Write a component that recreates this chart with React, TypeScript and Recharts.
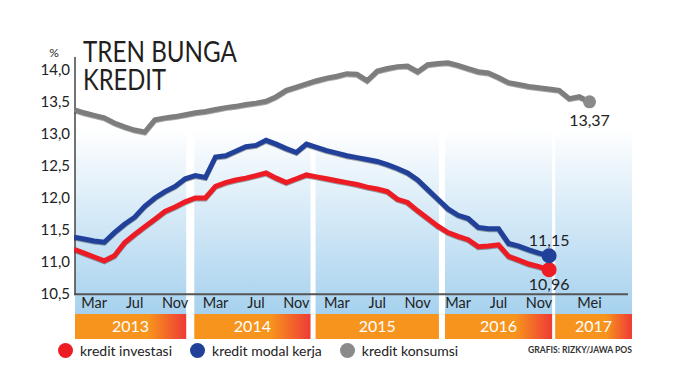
import { LineChart, Line, XAxis, YAxis, ReferenceArea, ReferenceLine, ReferenceDot, Legend } from 'recharts';

const FONT = 'Lato, "Open Sans", sans-serif';

// month index 0 = Jan 2013
const kreditInvestasi = [
  11.2, 11.14, 11.08, 11.02, 11.1, 11.3, 11.43, 11.55, 11.67, 11.79, 11.86, 11.94,
  12.0, 12.0, 12.18, 12.24, 12.28, 12.31, 12.35, 12.39, 12.31, 12.24, 12.3, 12.36,
  12.33, 12.3, 12.27, 12.24, 12.21, 12.17, 12.14, 12.1, 11.98, 11.93, 11.8, 11.68,
  11.56, 11.46, 11.4, 11.35, 11.24, 11.25, 11.27, 11.09, 11.03, 10.97, 10.93, 10.88,
];
const kreditModalKerja = [
  11.39, 11.36, 11.33, 11.31, 11.46, 11.59, 11.7, 11.87, 12.0, 12.1, 12.18, 12.3,
  12.35, 12.32, 12.64, 12.66, 12.73, 12.8, 12.82, 12.9, 12.84, 12.77, 12.71, 12.84,
  12.79, 12.74, 12.7, 12.66, 12.63, 12.6, 12.57, 12.52, 12.46, 12.39, 12.28, 12.13,
  11.98, 11.83, 11.73, 11.68, 11.54, 11.52, 11.52, 11.29, 11.25, 11.19, 11.14, 11.1,
];
const kreditKonsumsi = [
  13.38, 13.33, 13.29, 13.25, 13.17, 13.11, 13.06, 13.03, 13.22, 13.25, 13.27, 13.3,
  13.33, 13.35, 13.38, 13.41, 13.43, 13.46, 13.48, 13.51, 13.58, 13.68, 13.73, 13.78,
  13.83, 13.87, 13.9, 13.94, 13.93, 13.83, 13.98, 14.02, 14.05, 14.06, 13.97, 14.08,
  14.1, 14.11, 14.07, 14.02, 13.97, 13.95, 13.88, 13.8, 13.77, 13.74, 13.72, 13.7,
  13.68, 13.55, 13.58, 13.5,
];
const endLabels = { investasi: '10,96', modal: '11,15', konsumsi: '13,37' };
const seriesNames = ['kredit investasi', 'kredit modal kerja', 'kredit konsumsi'];

const tickIdx = [2, 6, 10, 14, 18, 22, 26, 30, 34, 38, 42, 46, 51];
const tickNames = ['Mar', 'Jul', 'Nov', 'Mar', 'Jul', 'Nov', 'Mar', 'Jul', 'Nov', 'Mar', 'Jul', 'Nov', 'Mei'];
const yTicks = [10.5, 11, 11.5, 12, 12.5, 13, 13.5, 14];

const years = ['2013', '2014', '2015', '2016', '2017'];
const yearStart = [0.1, 11.9, 23.9, 36.7, 47.6];
const yearEnd = [11.1, 23.4, 36.1, 47.3, 55.2];

const rows = kreditKonsumsi.map((g, i) => ({
  m: i,
  investasi: kreditInvestasi[i] ?? null,
  modal: kreditModalKerja[i] ?? null,
  konsumsi: g,
}));

const RED = '#ed1c24';
const BLUE = '#21409a';
const GRAY = '#7d7d7d';

const MonthTick = (props: any) => {
  const { x, y, payload } = props;
  const name = tickNames[tickIdx.indexOf(payload.value)];
  return (
    <text x={x} y={y - 31} textAnchor="middle" fontSize={14.5} fill="#222" fontFamily={FONT}>
      {name}
    </text>
  );
};

const renderLegend = (props: any) => {
  const payload = [...(props.payload || [])].sort(
    (a: any, b: any) => seriesNames.indexOf(a.value) - seriesNames.indexOf(b.value)
  );
  return (
    <div style={{ display: 'flex', alignItems: 'center', fontSize: 14, color: '#222', fontFamily: FONT }}>
      {payload.map((p: any) => (
        <span key={p.value} style={{ display: 'flex', alignItems: 'center', marginRight: 18 }}>
          <span
            style={{
              display: 'inline-block',
              width: 15,
              height: 15,
              borderRadius: '50%',
              background: p.color === GRAY ? '#8a8a8a' : p.color,
              marginRight: 7,
            }}
          />
          {p.value}
        </span>
      ))}
    </div>
  );
};

export default function App() {
  const last = kreditInvestasi.length - 1;
  const lastG = kreditKonsumsi.length - 1;
  return (
    <div style={{ position: 'absolute', left: 0, top: 0, width: 690, height: 385, background: '#fff', fontFamily: FONT }}>
      <style>{`.recharts-line-curve { filter: drop-shadow(0px 1.5px 0.6px rgba(0,0,0,0.35)); }`}</style>
      <svg width={0} height={0} style={{ position: 'absolute' }}>
        <defs>
          <linearGradient id="bandFill" x1="0" y1="0" x2="0" y2="1">
            <stop offset="0" stopColor="#ffffff" />
            <stop offset="0.28" stopColor="#ffffff" />
            <stop offset="1" stopColor="#a6d1ee" />
          </linearGradient>
          <linearGradient id="yearFill" x1="0" y1="0" x2="1" y2="0">
            <stop offset="0" stopColor="#f7941d" />
            <stop offset="0.66" stopColor="#f7941d" />
            <stop offset="1" stopColor="#ee3b36" />
          </linearGradient>
        </defs>
      </svg>
      <LineChart width={690} height={385} data={rows} margin={{ top: 57, right: 57, bottom: 26, left: 14 }}>
        {years.map((yr, i) => (
          <ReferenceArea
            key={'band' + yr}
            x1={yearStart[i]}
            x2={yearEnd[i]}
            y1={10.19}
            y2={14.2}
            fill="url(#bandFill)"
            fillOpacity={1}
            stroke="none"
          />
        ))}
        {years.map((yr, i) => (
          <ReferenceArea
            key={'yr' + yr}
            x1={yearStart[i]}
            x2={yearEnd[i]}
            y1={9.8}
            y2={10.19}
            fill={i === 2 ? '#f7941d' : 'url(#yearFill)'}
            fillOpacity={1}
            stroke="none"
            label={{ value: yr, position: 'center', fill: '#fff', fontSize: 16, fontFamily: FONT }}
          />
        ))}
        <XAxis
          type="number"
          dataKey="m"
          domain={[0, 55.3]}
          ticks={tickIdx}
          interval={0}
          allowDataOverflow
          axisLine={false}
          tickLine={false}
          tickSize={0}
          tickMargin={0}
          height={20}
          tick={MonthTick}
        />
        <YAxis
          type="number"
          domain={[9.8, 14.2]}
          ticks={yTicks}
          interval={0}
          allowDataOverflow
          tickFormatter={(v: number) => v.toFixed(1).replace('.', ',')}
          axisLine={false}
          tickLine={false}
          tickSize={0}
          tickMargin={4}
          width={60}
          tick={{ fontSize: 15, fill: '#222', fontFamily: FONT }}
        />
        <ReferenceLine segment={[{ x: 0, y: 10.5 }, { x: 54.8, y: 10.5 }]} stroke="#555" strokeWidth={2} />
        <ReferenceLine segment={[{ x: 0.1, y: 10.5 }, { x: 0.1, y: 14.2 }]} stroke="#444" strokeWidth={1.5} />
        <Legend
          layout="vertical"
          verticalAlign="middle"
          align="center"
          content={renderLegend}
          wrapperStyle={{ left: 58, top: 342, width: 470 }}
        />
        <Line
          name={seriesNames[0]}
          dataKey="investasi"
          stroke={RED}
          strokeWidth={5}
          dot={false}
          activeDot={false}
          isAnimationActive={false}
        />
        <Line
          name={seriesNames[1]}
          dataKey="modal"
          stroke={BLUE}
          strokeWidth={5}
          dot={false}
          activeDot={false}
          isAnimationActive={false}
        />
        <Line
          name={seriesNames[2]}
          dataKey="konsumsi"
          stroke={GRAY}
          strokeWidth={5}
          dot={false}
          activeDot={false}
          isAnimationActive={false}
        />
        <ReferenceDot
          x={last}
          y={kreditInvestasi[last]}
          r={7.5}
          fill={RED}
          stroke="none"
          label={{ value: endLabels.investasi, position: 'bottom', offset: 1, fontSize: 16, fill: '#222', fontFamily: FONT }}
        />
        <ReferenceDot
          x={last}
          y={kreditModalKerja[last]}
          r={7.5}
          fill={BLUE}
          stroke="none"
          label={{ value: endLabels.modal, position: 'top', offset: 2, fontSize: 16, fill: '#222', fontFamily: FONT }}
        />
        <ReferenceDot
          x={lastG}
          y={kreditKonsumsi[lastG]}
          r={6.5}
          fill="#8a8a8a"
          stroke="none"
          label={{ value: endLabels.konsumsi, position: 'bottom', offset: 6, fontSize: 16, fill: '#222', fontFamily: FONT }}
        />
      </LineChart>
      <svg width={690} height={385} style={{ position: 'absolute', left: 0, top: 0, pointerEvents: 'none' }}>
        <text x={83} y={62} fontSize={29} textLength={154} lengthAdjust="spacingAndGlyphs" fill="#231f20" fontFamily={FONT}>
          TREN BUNGA
        </text>
        <text x={83} y={90} fontSize={29} textLength={83} lengthAdjust="spacingAndGlyphs" fill="#231f20" fontFamily={FONT}>
          KREDIT
        </text>
        <text x={54} y={57} fontSize={12} textAnchor="middle" fill="#231f20" fontFamily={FONT}>
          %
        </text>
        <text
          x={632}
          y={353}
          fontSize={10}
          fontWeight={700}
          textAnchor="end"
          textLength={104}
          lengthAdjust="spacingAndGlyphs"
          fill="#333"
          fontFamily={FONT}
        >
          GRAFIS: RIZKY/JAWA POS
        </text>
      </svg>
    </div>
  );
}
